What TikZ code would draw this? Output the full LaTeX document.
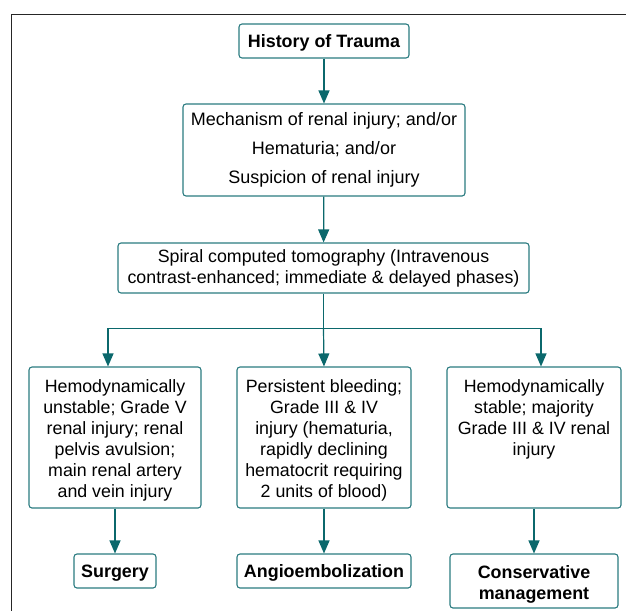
\documentclass[tikz,border=0pt]{standalone}
\usepackage{fontspec}
\setmainfont{Liberation Sans}
\usetikzlibrary{arrows.meta,calc}
\definecolor{teal1}{HTML}{2A7B80}
\definecolor{teal2}{HTML}{0B686C}
\begin{document}
\begin{tikzpicture}[x=1pt,y=-1pt,
  every node/.style={font=\fontsize{17.8}{21}\selectfont},
  box/.style={draw=teal1, line width=1.1pt, rounded corners=3pt, align=center, inner sep=0pt},
  bbox/.style={box, font=\fontsize{17.9}{21}\selectfont\bfseries},
  onel/.style={text height=13pt, text depth=0pt},
  conn/.style={draw=teal2, line width=1.2pt},
  arr/.style={conn, -{Triangle[length=13pt,width=11pt]}}]
\useasboundingbox (0,0) rectangle (626,611);
\coordinate (fa) at (626,14);
\coordinate (fb) at (11,14);
\coordinate (fc) at (11,611);
\draw[line width=1pt, black!85] (fa) -- (fb) -- (fc);

\node[bbox, onel, minimum width=170pt, minimum height=34pt] (hist) at (324,41) {History of Trauma};
\node[box, minimum width=282pt, minimum height=92pt, font=\fontsize{18}{29}\selectfont] (mech) at (324,150)
  {Mechanism of renal injury; and/or\\Hematuria; and/or\\Suspicion of renal injury};
\node[box, minimum width=411pt, minimum height=50pt] (spiral) at (323.5,268)
  {Spiral computed tomography (Intravenous\\contrast-enhanced; immediate \& delayed phases)};
\node[box] (left) at (115,437.5)
  {\parbox[c][141pt][t]{172pt}{\centering\rule{0pt}{25pt}Hemodynamically\\unstable; Grade V\\renal injury; renal\\pelvis avulsion;\\main renal artery\\and vein injury}};
\node[box] (mid) at (324,437.5)
  {\parbox[c][141pt][t]{174pt}{\centering\rule{0pt}{25pt}Persistent bleeding;\\Grade III \& IV\\injury (hematuria,\\rapidly declining\\hematocrit requiring\\2 units of blood)}};
\node[box] (right) at (534,437.5)
  {\parbox[c][141pt][t]{174pt}{\centering\rule{0pt}{25pt}Hemodynamically\\stable; majority\\Grade III \& IV renal\\injury}};
\node[bbox, onel, minimum width=82pt, minimum height=34pt] (surg) at (115,571) {Surgery};
\node[bbox, onel, minimum width=174pt, minimum height=34pt] (angio) at (324,571) {Angioembolization};
\node[bbox, minimum width=168pt, minimum height=54pt] (cons) at (534,581) {\rule{0pt}{20pt}Conservative\\management};

\draw[arr] (hist) -- (mech);
\draw[arr] (mech) -- (spiral);
\draw[conn] (spiral.south) -- ++(0,35) coordinate (split);
\draw[arr] (split) -| ([xshift=-7pt]left.north);
\draw[arr] (split) -| ([xshift=7pt]right.north);
\draw[arr] (split) -- (mid.north);
\draw[arr] (left.south) -- (surg.north);
\draw[arr] (mid.south) -- (angio.north);
\draw[arr] (right.south) -- (cons.north);
\end{tikzpicture}
\end{document}
